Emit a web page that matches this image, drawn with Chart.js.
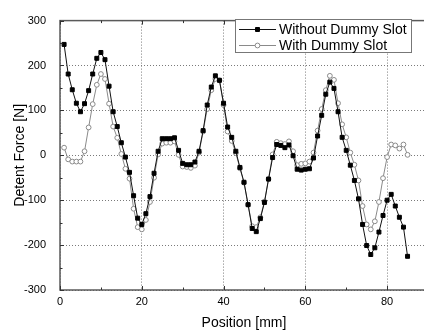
<!DOCTYPE html>
<html>
<head>
<meta charset="utf-8">
<script src="https://cdn.jsdelivr.net/npm/chart.js@4/dist/chart.umd.min.js"></script>
<style>
  html, body { margin: 0; padding: 0; background: #fff; overflow: hidden; }
  #wrap { width: 433px; height: 332px; }
</style>
</head>
<body>
<div id="wrap"><canvas id="detent-chart" width="433" height="332"></canvas></div>
<script>
// positions along the slot, mm
let positions = [1, 2, 3, 4, 5, 6, 7, 8, 9, 10, 11, 12, 13, 14, 15, 16, 17, 18, 19, 20,
  21, 22, 23, 24, 25, 26, 27, 28, 29, 30, 31, 32, 33, 34, 35, 36, 37, 38, 39, 40,
  41, 42, 43, 44, 45, 46, 47, 48, 49, 50, 51, 52, 53, 54, 55, 56, 57, 58, 59, 60,
  61, 62, 63, 64, 65, 66, 67, 68, 69, 70, 71, 72, 73, 74, 75, 76, 77, 78, 79, 80,
  81, 82, 83, 84, 85];

// detent force [N]
let withoutDummy = [247, 181, 146, 116, 97, 115, 144, 181, 216, 229,
  213, 154, 97, 64, 28, -4, -38, -90, -140, -154,
  -130, -92, -40, 9, 37, 37, 37, 39, 11, -18,
  -21, -21, -15, 9, 55, 112, 152, 177, 167, 116,
  63, 40, 9, -27, -60, -110, -163, -170, -141, -105,
  -53, -5, 24, 22, 17, 23, -1, -31, -33, -31,
  -30, -6, 43, 89, 136, 163, 149, 97, 40, 11,
  -22, -56, -97, -154, -201, -221, -206, -171, -134, -100,
  -87, -113, -138, -160, -225];

let withDummy = [17, -9, -14, -14, -14, 9, 62, 114, 157, 181,
  170, 115, 64, 39, 3, -30, -52, -119, -160, -165,
  -144, -104, -50, 2, 26, 28, 28, 31, 1, -25,
  -26, -28, -23, 6, 53, 103, 145, 170, 167, 112,
  53, 32, 5, -29, -61, -110, -158, -160, -138, -103,
  -53, 2, 30, 27, 25, 31, 9, -22, -19, -18,
  -14, 6, 55, 103, 145, 177, 168, 116, 69, 40,
  6, -21, -56, -113, -154, -165, -147, -104, -51, -4,
  24, 22, 15, 24, 1];

let seriesNames = ['Without Dummy Slot', 'With Dummy Slot'];
let xLabels = [0, 20, 40, 60, 80];
let xMinor = [10, 30, 50, 70, 90];
let yMinor = [-250, -150, -50, 50, 150, 250];

const FONT = 'Arial, "Liberation Sans", sans-serif';

function toPoints(values) {
  return positions.map((p, i) => ({ x: p, y: values[i] }));
}

// frame with inward ticks, like the original plotting program
const framePlugin = {
  id: 'frame',
  afterDatasetsDraw(chart) {
    const { ctx, chartArea: a, scales } = chart;
    ctx.save();
    ctx.strokeStyle = '#5a5a5a';
    ctx.lineWidth = 1.5;
    ctx.strokeRect(a.left, a.top, a.right - a.left, a.bottom - a.top);
    ctx.lineWidth = 1;
    ctx.strokeStyle = '#333';
    ctx.beginPath();
    let tick = (x1, y1, x2, y2) => { ctx.moveTo(x1, y1); ctx.lineTo(x2, y2); };
    scales.x.ticks.forEach(t => {
      let px = Math.round(scales.x.getPixelForValue(t.value)) + 0.5;
      tick(px, a.bottom, px, a.bottom - 4);
      tick(px, a.top, px, a.top + 4);
    });
    xMinor.forEach(v => {
      let px = Math.round(scales.x.getPixelForValue(v)) + 0.5;
      tick(px, a.bottom, px, a.bottom - 2.5);
      tick(px, a.top, px, a.top + 2.5);
    });
    scales.y.ticks.forEach(t => {
      let py = Math.round(scales.y.getPixelForValue(t.value)) + 0.5;
      tick(a.left, py, a.left + 4, py);
      tick(a.right, py, a.right - 4, py);
    });
    yMinor.forEach(v => {
      let py = Math.round(scales.y.getPixelForValue(v)) + 0.5;
      tick(a.left, py, a.left + 2.5, py);
      tick(a.right, py, a.right - 2.5, py);
    });
    ctx.stroke();
    ctx.restore();
  }
};

// boxed legend: line sample with marker in the middle
const legendPlugin = {
  id: 'boxLegend',
  afterDraw(chart) {
    const { ctx } = chart;
    let bx = 235.5, by = 19.5, bw = 176, bh = 33;
    ctx.save();
    ctx.fillStyle = '#fff';
    ctx.fillRect(bx, by, bw, bh);
    ctx.strokeStyle = '#777';
    ctx.lineWidth = 1;
    ctx.strokeRect(bx, by, bw, bh);
    ctx.font = '14px ' + FONT;
    ctx.textBaseline = 'middle';
    chart.data.datasets.forEach((ds, i) => {
      let y = 29 + i * 16;
      ctx.strokeStyle = ds.borderColor;
      ctx.lineWidth = 1;
      ctx.beginPath();
      ctx.moveTo(239, y + 0.5);
      ctx.lineTo(276, y + 0.5);
      ctx.stroke();
      ctx.fillStyle = ds.pointBackgroundColor;
      ctx.strokeStyle = ds.pointBorderColor;
      Chart.helpers.drawPoint(ctx, {
        pointStyle: ds.pointStyle,
        radius: ds.pointRadius,
        borderWidth: 1
      }, 257.5, y + 0.5);
      ctx.fillStyle = '#000';
      ctx.fillText(ds.label, 279, y + 1);
    });
    ctx.restore();
  }
};

let ctx = document.getElementById('detent-chart').getContext('2d');

let detentChart = new Chart(ctx, {
  type: 'line',
  data: {
    datasets: [{
      label: seriesNames[0],
      data: toPoints(withoutDummy),
      borderColor: '#111',
      backgroundColor: '#000',
      borderWidth: 1,
      pointStyle: 'rect',
      pointRadius: 2.8,
      pointBorderWidth: 1,
      pointBorderColor: '#000',
      pointBackgroundColor: '#000',
      tension: 0
    }, {
      label: seriesNames[1],
      data: toPoints(withDummy),
      borderColor: '#8a8a8a',
      backgroundColor: '#fff',
      borderWidth: 1,
      pointStyle: 'circle',
      pointRadius: 2.4,
      pointBorderWidth: 1,
      pointBorderColor: '#8a8a8a',
      pointBackgroundColor: '#fff',
      tension: 0
    }]
  },
  options: {
    responsive: false,
    animation: false,
    devicePixelRatio: 1,
    layout: { padding: { top: 15, left: 0, right: 0, bottom: 0 } },
    plugins: {
      legend: { display: false },
      tooltip: { enabled: false }
    },
    scales: {
      x: {
        type: 'linear',
        min: 0,
        max: 90,
        afterFit: s => { s.height = 42; s.paddingRight = 0; },
        ticks: {
          stepSize: 20,
          color: '#000',
          padding: 5,
          maxRotation: 0,
          font: { family: FONT, size: 11 },
          callback: v => xLabels.includes(v) ? String(v) : ''
        },
        grid: { color: '#7a7a7a', lineWidth: 1, drawTicks: false },
        border: { display: false, dash: [1, 2] },
        title: {
          display: true,
          text: 'Position [mm]',
          color: '#000',
          font: { family: FONT, size: 14 },
          padding: { top: 4, bottom: 0 }
        }
      },
      y: {
        min: -300,
        max: 300,
        afterFit: s => { s.width = 60; },
        ticks: {
          stepSize: 100,
          color: '#000',
          padding: 14,
          font: { family: FONT, size: 11 }
        },
        grid: { color: '#7a7a7a', lineWidth: 1, drawTicks: false },
        border: { display: false, dash: [1, 2] },
        title: {
          display: true,
          text: 'Detent Force [N]',
          color: '#000',
          font: { family: FONT, size: 14 },
          padding: { top: 12, bottom: 0 }
        }
      }
    }
  },
  plugins: [framePlugin, legendPlugin]
});
</script>
</body>
</html>
